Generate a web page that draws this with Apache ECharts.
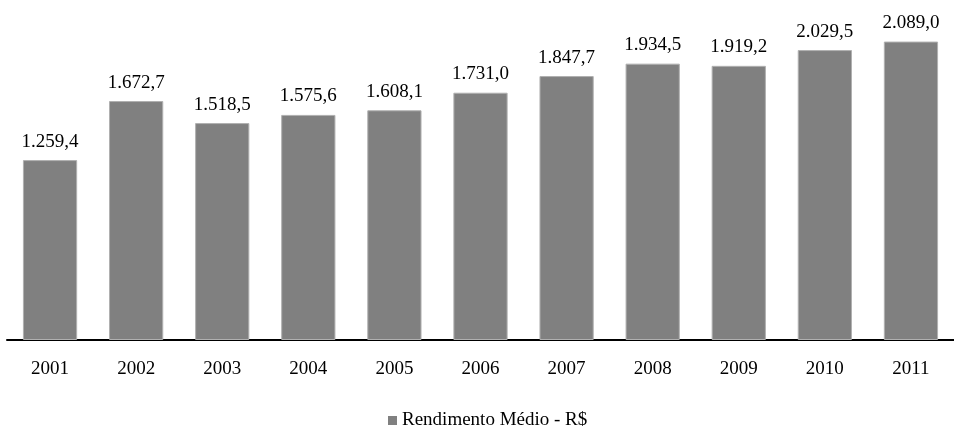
<!DOCTYPE html>
<html>
<head>
<meta charset="utf-8">
<script src="https://cdn.jsdelivr.net/npm/echarts@6/dist/echarts.min.js"></script>
<style>
html,body{margin:0;padding:0;background:#fff;}
#chart{width:954px;height:426px;}
</style>
</head>
<body>
<div id="chart"></div>
<script>
const categories = ['2001','2002','2003','2004','2005','2006','2007','2008','2009','2010','2011'];
const rendimento = [1259.4, 1672.7, 1518.5, 1575.6, 1608.1, 1731.0, 1847.7, 1934.5, 1919.2, 2029.5, 2089.0];
const seriesName = 'Rendimento Médio - R$';

function fmt(v){
  const parts = v.toFixed(1).split('.');
  const intPart = parts[0].replace(/\B(?=(\d{3})+(?!\d))/g, '.');
  return intPart + ',' + parts[1];
}

const font = '"Liberation Serif","Times New Roman",serif';
const chart = echarts.init(document.getElementById('chart'), null, {renderer:'canvas'});
chart.setOption({
  animation:false,
  backgroundColor:'#fff',
  textStyle:{fontFamily:font},
  grid:{left:7, right:-11, top:40, bottom:86, containLabel:false},
  legend:{
    data:[seriesName],
    left:383,
    top:406,
    itemWidth:9, itemHeight:9,
    icon:'rect',
    itemGap:4,
    itemStyle:{borderWidth:0},
    textStyle:{fontFamily:font, fontSize:19, color:'#000', padding:[0,0,0,0]}
  },
  xAxis:{
    type:'category',
    data:categories,
    axisLine:{show:true, lineStyle:{color:'#000', width:2}},
    axisTick:{show:false},
    axisLabel:{fontFamily:font, fontSize:19, color:'#000', margin:20}
  },
  yAxis:{
    type:'value', min:0, max:2100,
    show:false,
    splitLine:{show:false}
  },
  series:[{
    name:seriesName,
    type:'bar',
    data:rendimento,
    barWidth:'63%',
    itemStyle:{color:'#808080', borderColor:'#b0b0b0', borderWidth:1},
    label:{show:true, position:'top', distance:9, fontFamily:font, fontSize:19, color:'#000',
      formatter:p=>fmt(p.value)}
  }]
});
</script>
</body>
</html>
